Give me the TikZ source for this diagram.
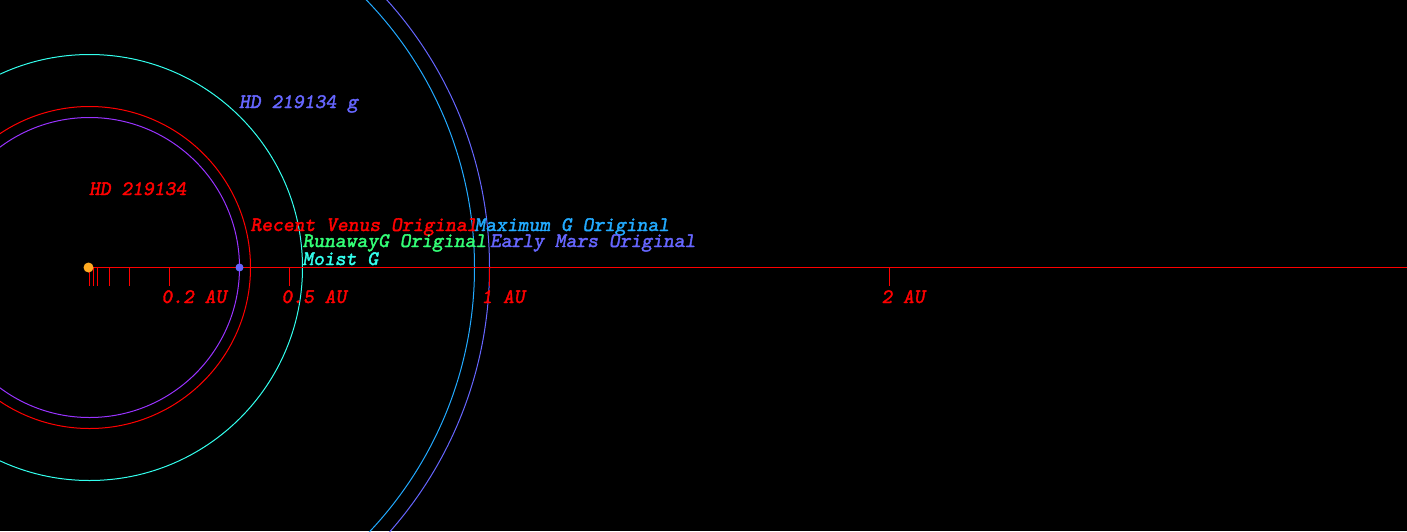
\documentclass[tikz,border=0pt]{standalone}
\usepackage{fontspec}
\newfontfamily\lblfont{lmmonoslant10-regular.otf}[FakeBold=1.8]
\definecolor{cred}{HTML}{FF0000}
\definecolor{cviolet}{HTML}{9933FF}
\definecolor{ccyan}{HTML}{33FFEE}
\definecolor{cazure}{HTML}{22AAFF}
\definecolor{cperi}{HTML}{6666FF}
\definecolor{cgreen}{HTML}{33FF77}
\definecolor{corange}{HTML}{FFAA22}
\tikzset{
  lbl/.style={anchor=base west, inner sep=0pt, outer sep=0pt,
    font=\fontsize{20.6}{20.6}\selectfont\lblfont},
  orbit/.style={line width=1pt},
  tick/.style={cred, line width=1pt},
}
\begin{document}
\begin{tikzpicture}[x=1pt,y=-1pt]
\fill[black] (0,0) rectangle (1407,531);
\useasboundingbox (0,0) rectangle (1407,531);
\clip (0,0) rectangle (1407,531);
% orbits / zones
\draw[orbit, cviolet] (89.5,267.5) circle[radius=150];
\draw[orbit, cred] (89.5,267.5) circle[radius=161];
\draw[orbit, ccyan] (89.5,267.5) circle[radius=213];
\draw[orbit, cazure] (89.5,267.5) circle[radius=385];
\draw[orbit, cperi] (89.5,267.5) circle[radius=400];
% axis
\coordinate (axL) at (89.5,267.5);
\coordinate (axR) at (1407,267.5);
\draw[tick] (axL) -- (axR);
\foreach \x in {89,93,97,109,129,169,289,489,889}{
  \draw[tick] (\x+0.5,267.5) -- (\x+0.5,285.5);
}
% star and planet
\node[circle, fill=corange, inner sep=0pt, minimum size=10pt] (star) at (88.5,267.5) {};
\node[circle, fill=cperi, inner sep=0pt, minimum size=8pt] (planet) at (239.5,267.5) {};
% labels
\node[lbl, cperi] (pg) at (239,108) {HD 219134 g};
\node[lbl, cred] (st) at (89,195) {HD 219134};
\node[lbl, cred] (rv) at (250.5,231) {Recent Venus Original};
\node[lbl, cazure] (mg) at (474.5,231) {Maximum G Original};
\node[lbl, cgreen] (rg) at (302.5,247) {RunawayG Original};
\node[lbl, cperi] (em) at (490,247) {Early Mars Original};
\node[lbl, ccyan] (mo) at (302.5,265) {Moist G};
\node[lbl, cred] (a02) at (161.5,303) {0.2 AU};
\node[lbl, cred] (a05) at (281.5,303) {0.5 AU};
\node[lbl, cred] (a1) at (481.5,303) {1 AU};
\node[lbl, cred] (a2) at (881.5,303) {2 AU};
\end{tikzpicture}
\end{document}
